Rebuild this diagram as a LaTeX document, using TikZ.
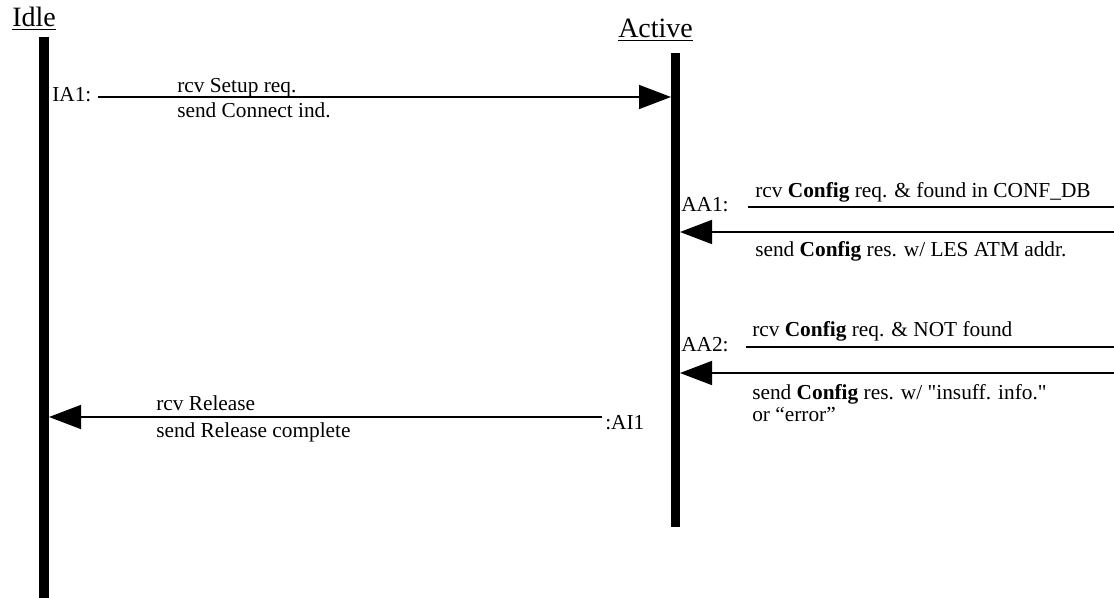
\documentclass[tikz,border=0pt]{standalone}
\usepackage{fontspec}
\setmainfont{Liberation Serif}
\newfontfamily\quotefont{Liberation Serif}
\usepackage{tikz}
\usetikzlibrary{arrows.meta}
\newcommand{\sq}{{\quotefont"}}
\tikzstyle{lifeline}=[line width=7pt]
\tikzstyle{msg}=[-{Triangle[length=24pt,width=18pt]},line width=1.2pt]
\tikzstyle{plain}=[line width=1.2pt]
\tikzstyle{lbl}=[anchor=base west,inner sep=0pt,font=\fontsize{16}{18}\selectfont]
\tikzstyle{state}=[anchor=base west,inner sep=0pt,font=\fontsize{21}{24}\selectfont]

\begin{document}
\begin{tikzpicture}[x=0.75pt,y=-0.75pt]
            \useasboundingbox (0,0) rectangle (1114,598);
            % states
            \node[state] (idle) at (12,27) {\underline{Idle}};
            \node[state] (active) at (618,38) {\underline{Active}};
            \coordinate (idletop) at (44,37);
            \coordinate (idlebot) at (44,598);
            \coordinate (acttop) at (675.5,53);
            \coordinate (actbot) at (675.5,527);
            \draw[lifeline] (idletop) -- (idlebot);
            \draw[lifeline] (acttop) -- (actbot);
            % IA1
            \node[lbl] (ia1) at (52,102) {IA1:};
            \coordinate (ia1s) at (98,97);
            \coordinate (ia1e) at (671,97);
            \draw[msg] (ia1s) -- (ia1e);
            \node[lbl] (ia1rcv) at (177,93) {rcv Setup req.};
            \node[lbl] (ia1snd) at (177,118) {send Connect ind.};
            % AA1
            \node[lbl] (aa1) at (681,212) {AA1:};
            \coordinate (aa1s) at (748,207);
            \coordinate (aa1e) at (1114,207);
            \draw[plain] (aa1s) -- (aa1e);
            \node[lbl] (aa1rcv) at (755,198) {rcv \textbf{Config} req. \& found in CONF\_DB};
            \coordinate (aa1b) at (1114,232);
            \coordinate (aa1t) at (680,232);
            \draw[msg] (aa1b) -- (aa1t);
            \node[lbl] (aa1snd) at (755,257) {send \textbf{Config} res. w/ LES ATM addr.};
            % AA2
            \node[lbl] (aa2) at (681,352) {AA2:};
            \coordinate (aa2s) at (746,347);
            \coordinate (aa2e) at (1114,347);
            \draw[plain] (aa2s) -- (aa2e);
            \node[lbl] (aa2rcv) at (752,337) {rcv \textbf{Config} req. \& NOT found};
            \coordinate (aa2b) at (1114,373);
            \coordinate (aa2t) at (680,373);
            \draw[msg] (aa2b) -- (aa2t);
            \node[lbl] (aa2snd) at (752,400) {send \textbf{Config} res. w/ \sq insuff. info.\sq};
            \node[lbl] (aa2err) at (752,422) {or “error”};
            % AI1
            \node[lbl] (ai1) at (605,430) {:AI1};
            \coordinate (ai1s) at (602,417);
            \coordinate (ai1e) at (49,417);
            \draw[msg] (ai1s) -- (ai1e);
            \node[lbl] (ai1rcv) at (156,411) {rcv Release};
            \node[lbl] (ai1snd) at (156,438) {send Release complete};
\end{tikzpicture}
\end{document}
